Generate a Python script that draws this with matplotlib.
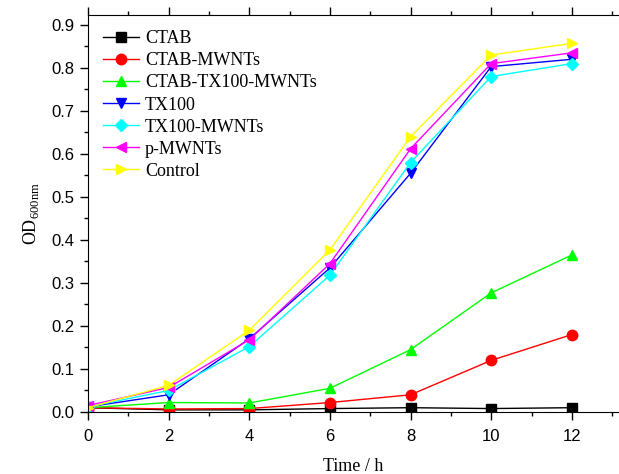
import matplotlib
matplotlib.use("Agg")
import matplotlib.pyplot as plt
from matplotlib.ticker import MultipleLocator

plt.rcParams['mathtext.fontset'] = 'custom'
plt.rcParams['mathtext.rm'] = 'Liberation Serif'

# sampling times (h)
time_h = [0, 2, 4, 6, 8, 10, 12]

# OD600 for each sample
ctab = [0.010, 0.005, 0.005, 0.008, 0.010, 0.008, 0.010]
ctab_mwnts = [0.010, 0.007, 0.008, 0.022, 0.040, 0.120, 0.180]
ctab_tx100_mwnts = [0.010, 0.022, 0.021, 0.055, 0.145, 0.277, 0.365]
tx100 = [0.012, 0.040, 0.170, 0.335, 0.555, 0.803, 0.820]
tx100_mwnts = [0.012, 0.050, 0.152, 0.318, 0.580, 0.780, 0.810]
p_mwnts = [0.015, 0.057, 0.168, 0.345, 0.612, 0.810, 0.835]
control = [0.010, 0.062, 0.190, 0.377, 0.640, 0.830, 0.857]

series = [
    ("CTAB", ctab, "black", "s"),
    ("CTAB-MWNTs", ctab_mwnts, "red", "o"),
    ("CTAB-TX100-MWNTs", ctab_tx100_mwnts, "#00ff00", "^"),
    ("TX100", tx100, "blue", "v"),
    ("TX100-MWNTs", tx100_mwnts, "cyan", "D"),
    ("p-MWNTs", p_mwnts, "magenta", "<"),
    ("Control", control, "yellow", ">"),
]

fig = plt.figure(figsize=(6.19, 4.74), dpi=100)
ax = fig.add_axes([88 / 619, 62 / 474, 531 / 619, 397 / 474])

for name, vals, col, mk in series:
    ms = 6 if mk == "D" else 7.5
    ax.plot(time_h, vals, color=col, marker=mk, markersize=ms, linewidth=1,
            label=name)

ax.set_xlim(0, 13.17)
ax.set_ylim(0, 0.923)
ax.xaxis.set_major_locator(MultipleLocator(2))
ax.xaxis.set_minor_locator(MultipleLocator(1))
ax.yaxis.set_major_locator(MultipleLocator(0.1))
ax.yaxis.set_minor_locator(MultipleLocator(0.05))
ax.yaxis.set_major_formatter(plt.FormatStrFormatter('%.1f'))
ax.spines['right'].set_visible(False)

ax.tick_params(which='major', direction='out', length=6, width=1,
               labelsize=12)
ax.tick_params(which='minor', direction='out', length=3, width=1)
ax.tick_params(axis='x', which='both', top=True)
ax.tick_params(axis='x', which='major', pad=6)
for lab in ax.get_xticklabels() + ax.get_yticklabels():
    lab.set_family('Liberation Sans')

ax.set_xlabel("Time / h", family='Liberation Serif', fontsize=13, labelpad=10)
ax.set_ylabel(r"OD$_{\mathrm{600nm}}$", family='Liberation Serif', fontsize=13,
              labelpad=8)

ax.legend(loc='upper left', bbox_to_anchor=(0.0, 1.0), frameon=False,
          prop={'family': 'Liberation Serif', 'size': 13}, handlelength=2.0,
          handletextpad=0.3, labelspacing=0.28, borderaxespad=0.45)

fig.savefig("out.png", dpi=100)
